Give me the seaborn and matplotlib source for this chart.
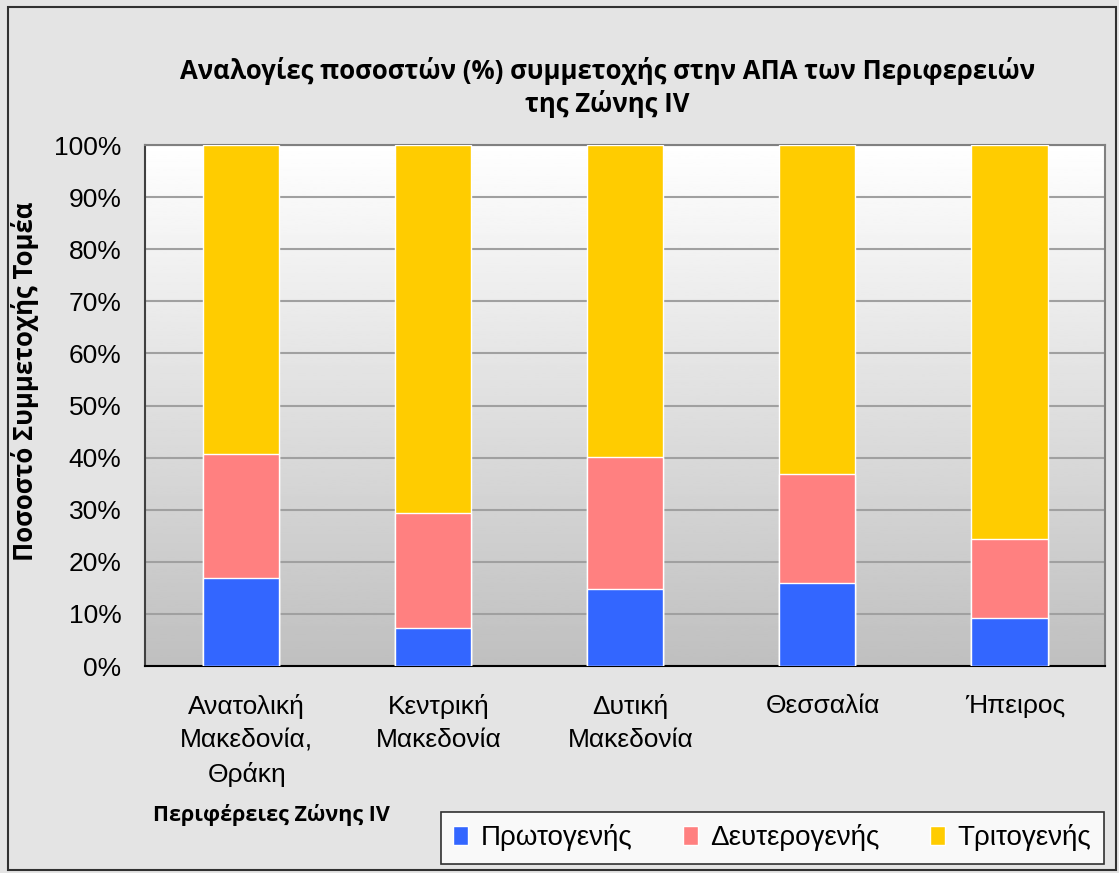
import numpy as np
import pandas as pd
import matplotlib.pyplot as plt
import seaborn as sns
from matplotlib.patches import Patch, Rectangle

# Data (percent shares per region)
regions = ["Ανατολική\nΜακεδονία,\nΘράκη", "Κεντρική\nΜακεδονία", "Δυτική\nΜακεδονία",
           "Θεσσαλία", "Ήπειρος"]
primary = [16.9, 7.3, 14.8, 15.9, 9.2]
secondary = [23.8, 22.1, 25.3, 21.0, 15.2]
tertiary = [59.3, 70.6, 59.9, 63.1, 75.6]

sectors = ["Πρωτογενής", "Δευτερογενής", "Τριτογενής"]
colors = ["#3366FF", "#FF8080", "#FFCC00"]

df = pd.DataFrame({"region": regions, "p": primary, "s": secondary, "t": tertiary})
df["cum_s"] = df["p"] + df["s"]
df["cum_t"] = df["cum_s"] + df["t"]

sns.set_style("white")
plt.rcParams["font.family"] = ["Liberation Sans", "DejaVu Sans"]
plt.rcParams["text.color"] = "black"
plt.rcParams["axes.labelcolor"] = "black"
plt.rcParams["xtick.color"] = "black"
plt.rcParams["ytick.color"] = "black"

bold_font = ["Open Sans", "DejaVu Sans"]

fig = plt.figure(figsize=(11.19, 8.73), dpi=100)
fig.patch.set_facecolor("#e4e4e4")
fig.add_artist(Rectangle((0.007, 0.004), 0.99, 0.988, transform=fig.transFigure,
                         fill=False, edgecolor="#303030", lw=1.5))

ax = fig.add_axes([0.1296, 0.2371, 0.858, 0.5968])

# gradient background of the plot area
grad = np.linspace(1, 0, 256).reshape(-1, 1)
ax.imshow(grad, extent=[-0.5, 4.5, 0, 100], aspect="auto", cmap="gray",
          vmin=-3.0, vmax=1.0, zorder=0)

# stacked bars: draw totals first, then cumulative layers on top
for col, c in zip(["cum_t", "cum_s", "p"], colors[::-1]):
    sns.barplot(data=df, x="region", y=col, color=c, width=0.4, ax=ax,
                saturation=1, zorder=3)

ax.set_xlim(-0.5, 4.5)
ax.set_ylim(0, 100)
ax.set_yticks(np.arange(0, 101, 10))
ax.set_yticklabels([f"{v}%" for v in range(0, 101, 10)], fontsize=19)
ax.yaxis.grid(True, color="#a0a0a0", lw=1.5)
for gl in ax.get_ygridlines():
    gl.set_zorder(1)

ax.set_xticks(np.arange(-0.5, 4.6, 1))
ax.set_xticklabels([])
ax.tick_params(axis="x", length=10, width=1.2, color="black", direction="out")
ax.tick_params(axis="y", length=7, width=1.2, color="#404040", direction="out", pad=10)
for i, lab in enumerate(regions):
    ax.text(i + 0.03, -5.3, lab, ha="center", va="top", fontsize=19, linespacing=1.5)

ax.set_xlabel("")
ax.set_ylabel("Ποσοστό Συμμετοχής Τομέα", fontsize=18.5, fontweight="bold",
              family=bold_font)
ax.yaxis.set_label_coords(-0.11, 0.547)

for side in ["top", "right"]:
    ax.spines[side].set_color("#808080")
    ax.spines[side].set_linewidth(1.5)
ax.spines["left"].set_color("#404040")
ax.spines["left"].set_linewidth(1.5)
ax.spines["bottom"].set_color("black")
ax.spines["bottom"].set_linewidth(1.5)

fig.text(0.543, 0.9, "Αναλογίες ποσοστών (%) συμμετοχής στην ΑΠΑ των Περιφερειών\nτης Ζώνης IV",
         ha="center", va="center", fontsize=18.5, fontweight="bold", linespacing=1.2,
         family=bold_font)
fig.text(0.243, 0.066, "Περιφέρειες Ζώνης IV", ha="center", va="center",
         fontsize=15.5, fontweight="bold", family=bold_font)

handles = [Patch(facecolor=c, label=s) for c, s in zip(colors, sectors)]
leg = fig.legend(handles=handles, loc="center", bbox_to_anchor=(0.69, 0.0405), ncol=3,
                 fontsize=20, frameon=True, fancybox=False, edgecolor="black",
                 handlelength=0.55, handleheight=0.7, handletextpad=0.45,
                 columnspacing=1.8, borderpad=0.45)
leg.get_frame().set_linewidth(1.2)

fig.savefig("out.png", dpi=100, facecolor=fig.get_facecolor())
